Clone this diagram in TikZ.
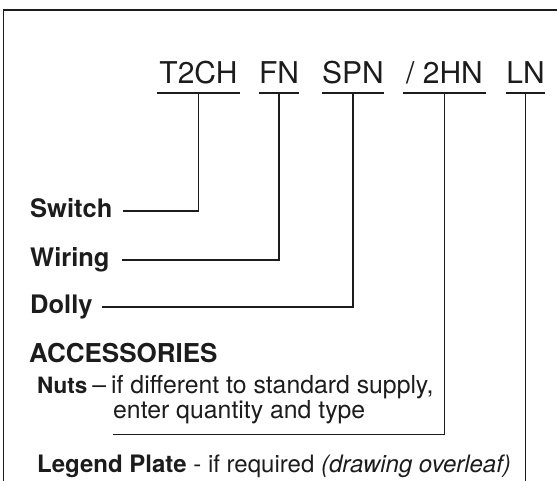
\documentclass[tikz,border=0pt]{standalone}
\usepackage{fontspec}
\setmainfont{TeX Gyre Heros}
\definecolor{ink}{HTML}{1C1C1C}
\begin{document}
\begin{tikzpicture}[x=1pt,y=-1pt,
  conn/.style={draw=ink,line width=1.5pt},
  framestyle/.style={draw=ink,line width=1.6pt},
  code/.style={inner sep=0pt,anchor=base,text depth=10pt,text=ink,
    font=\fontsize{30}{30}\selectfont},
  lab/.style={inner sep=0pt,anchor=base west,text height=12pt,text depth=0pt,text=ink,
    font=\fontsize{25.5}{25.5}\selectfont\bfseries},
  txt/.style={inner sep=0pt,anchor=base west,text=ink,
    font=\fontsize{24.8}{22.5}\selectfont}]
\useasboundingbox (0,0) rectangle (557,480);
\clip (0,0) rectangle (557,480);
% frame
\draw[framestyle] (3.5,495) -- (3.5,10) -- (565,10);
% codes
\node[code,minimum width=83pt] (c1) at (198.5,83) {T2CH};
\node[code,minimum width=38pt] (c2) at (279,83) {FN};
\node[code,minimum width=60pt] (c3) at (353,83) {SPN};
\node[code,minimum width=83pt] (c4) at (444.5,83) {/ 2HN};
\node[code,minimum width=35pt] (c5) at (525.5,83) {LN};
\foreach \c in {c1,c2,c3,c4,c5}{\draw[conn] (\c.south west) -- (\c.south east);}
% labels
\node[lab] (sw) at (30,217) {Switch};
\node[lab] (wi) at (30,266) {Wiring};
\node[lab] (do) at (30,313) {Dolly};
\node[inner sep=0pt,anchor=base west,text=ink,font=\fontsize{26}{26}\selectfont\bfseries] (ac) at (29,362) {ACCESSORIES};
\node[txt,align=left] (nu) at (37,418) {{\fontsize{22.5}{22.5}\selectfont\bfseries Nuts}\kern5pt–\kern5pt if different to standard supply,\\
  \hspace*{76pt}enter quantity and type};
\coordinate (nuline) at (113,434.5);
\node[txt,font=\fontsize{24}{24}\selectfont] (lp) at (37,472) {\textbf{Legend Plate} - if required \textit{(drawing overleaf)}};
\coordinate (bot) at (527,485);
% connectors
\draw[conn] (c1.south) |- ([xshift=10pt]sw.east);
\draw[conn] (c2.south) |- ([xshift=12.5pt]wi.east);
\draw[conn] (c3.south) |- ([xshift=9.5pt]do.east);
\draw[conn] (nuline) -| (c4.south);
\draw[conn] (c5.south) -- (c5.south |- bot);
\end{tikzpicture}
\end{document}
